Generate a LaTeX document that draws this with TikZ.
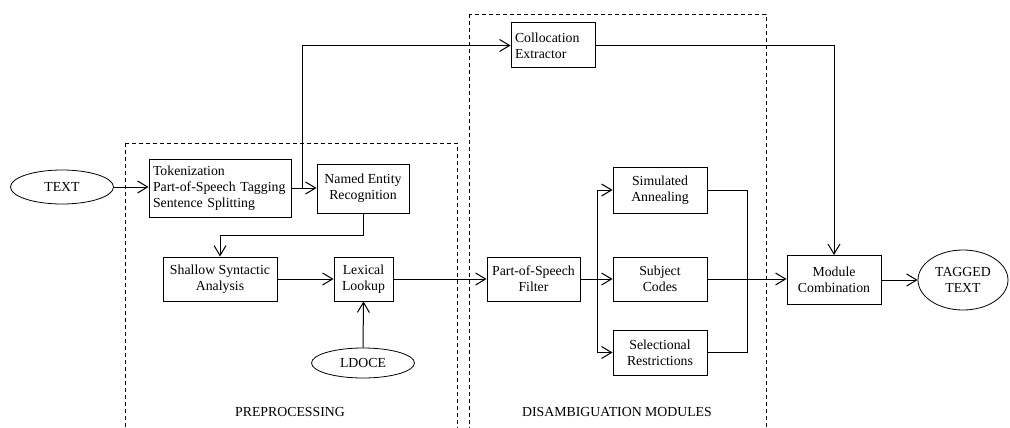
\documentclass[tikz,border=0pt]{standalone}
\usepackage{fontspec}
\setmainfont{Liberation Serif}
\usetikzlibrary{arrows.meta,shapes.geometric}
\begin{document}
\begin{tikzpicture}[x=1pt,y=-1pt,
  font=\fontsize{13.8}{16}\selectfont,
  box/.style={draw,line width=1pt,inner sep=3pt,align=center},
  lbox/.style={draw,line width=1pt,inner sep=4pt,align=left},
  oval/.style={draw,ellipse,line width=0.8pt,inner sep=0pt,align=center},
  conn/.style={line width=1pt},
  arr/.style={conn,-{Straight Barb[length=10pt,width=12pt,line width=1pt]}},
  group/.style={line width=0.8pt,dash pattern=on 4pt off 3pt}]
\useasboundingbox (0,0) rectangle (1010,428);
\clip (0,0) rectangle (1010,428);
% groups
\draw[group] (125,143) rectangle (457,450);
\draw[group] (469,14) rectangle (766,450);
\node (prelab) at (290,412) {PREPROCESSING};
\node (dislab) at (617,412) {DISAMBIGUATION MODULES};
% nodes
\node[oval,minimum width=103,minimum height=34] (text) at (62,187) {TEXT};
\node[lbox,text width=134,minimum height=58] (tok) at (220,188) {Tokenization\\Part-of-Speech Tagging\\Sentence Splitting};
\node[box,minimum width=92,minimum height=49] (ner) at (363,188.5) {Named Entity\\Recognition};
\node[lbox,text width=76,minimum height=45] (coll) at (553,45.5) {Collocation\\Extractor};
\node[box,minimum width=114,minimum height=44] (shallow) at (220,279) {Shallow Syntactic\\Analysis};
\node[box,minimum width=59,minimum height=44] (lex) at (363.5,279) {Lexical\\Lookup};
\node[oval,minimum width=103,minimum height=30] (ldoce) at (363,363) {LDOCE};
\node[box,minimum width=93,minimum height=44] (pos) at (533.5,279) {Part-of-Speech\\Filter};
\node[box,minimum width=94,minimum height=46] (sim) at (660,190) {Simulated\\Annealing};
\node[box,minimum width=94,minimum height=44] (subj) at (660,279) {Subject\\Codes};
\node[box,minimum width=94,minimum height=45] (sel) at (660,352.5) {Selectional\\Restrictions};
\node[box,minimum width=94,minimum height=49] (mod) at (834,280) {Module\\Combination};
\node[oval,minimum width=90,minimum height=60] (tag) at (963,280) {TAGGED\\TEXT};
% connectors
\draw[arr] (text.east) -- (text.east -| tok.west);
\draw[arr] (tok.east) -- (ner.west |- tok.east);
\draw[arr] (tok.east) -- ++(11,0) |- (coll.west);
\draw[arr] (coll.east) -| (mod.north);
\draw[arr] (ner.south) -- ++(0,22) -| (shallow.north);
\draw[arr] (shallow.east) -- (lex.west);
\draw[arr] (ldoce.north) -- (lex.south);
\draw[arr] (lex.east) -- (pos.west);
\coordinate (split) at (597,279);
\coordinate (merge) at (747,279);
\draw[conn] (pos.east) -- (split);
\draw[arr] (split) |- (sim.west);
\draw[arr] (split) -- (subj.west);
\draw[arr] (split) |- (sel.west);
\draw[conn] (sim.east) -| (merge);
\draw[conn] (sel.east) -| (merge);
\draw[conn] (subj.east) -- (merge);
\draw[arr] (merge) -- (merge -| mod.west);
\draw[arr] (mod.east) -- (tag.west);
\end{tikzpicture}
\end{document}
